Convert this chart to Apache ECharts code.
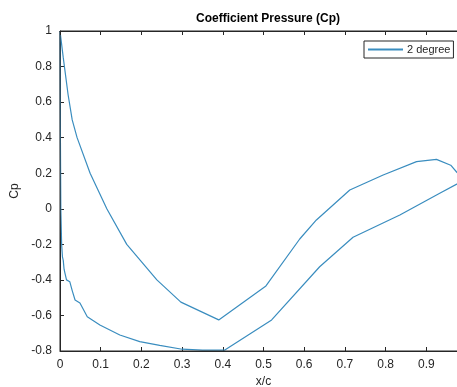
<!DOCTYPE html>
<html>
<head>
<meta charset="utf-8">
<script src="https://cdn.jsdelivr.net/npm/echarts@6/dist/echarts.min.js"></script>
<style>
  html, body { margin: 0; padding: 0; background: #fff; }
  #cp { width: 457px; height: 387px; }
</style>
</head>
<body>
<div id="cp"></div>
<script>
var cp_chart = echarts.init(document.getElementById('cp'));

// one closed loop: trailing edge -> lower surface -> leading edge -> upper surface -> trailing edge
var xc = [1.0, 0.975, 0.96, 0.925, 0.876, 0.794, 0.712, 0.63, 0.589, 0.506, 0.39, 0.297, 0.238, 0.164, 0.115, 0.074, 0.042, 0.03, 0.02, 0.008, 0,
    0.001, 0.002, 0.004, 0.006, 0.008, 0.01, 0.012, 0.016, 0.024, 0.03, 0.037, 0.049, 0.067, 0.098, 0.147, 0.196, 0.245, 0.30, 0.35, 0.405,
    0.52, 0.638, 0.72, 0.835, 0.933, 1.0];
var cp = [0.17, 0.205, 0.245, 0.278, 0.265, 0.19, 0.106, -0.063, -0.17, -0.434, -0.625, -0.525, -0.4, -0.2, 0, 0.2, 0.4, 0.5, 0.64, 0.85, 1,
    0.4, 0, -0.2, -0.27, -0.29, -0.34, -0.36, -0.40, -0.41, -0.46, -0.513, -0.53, -0.607, -0.654, -0.71, -0.747, -0.768, -0.79, -0.795, -0.795,
    -0.625, -0.326, -0.16, -0.035, 0.087, 0.17];
var series_name = '2 degree';
var x_ticks = [0, 1, 0.1];
var y_ticks = [-0.8, 1, 0.2];

var axis_color = '#262626';
var font = 'Liberation Sans, Arial, sans-serif';

function build_points(xs, ys) {
    var pts = [];
    for (var i = 0; i < xs.length; ++i) {
        pts.push([xs[i], ys[i]]);
    }
    return pts;
}

var option = {
    animation: false,
    backgroundColor: '#fff',
    title: {
        text: 'Coefficient Pressure (Cp)',
        left: 263,
        top: 8,
        textAlign: 'center',
        textStyle: { fontFamily: font, fontSize: 12, fontWeight: 'bold', color: '#000' }
    },
    legend: {
        left: 364,
        top: 41,
        padding: [3, 3, 3, 4],
        borderColor: axis_color,
        borderWidth: 1,
        borderRadius: 0,
        itemWidth: 35,
        itemHeight: 2,
        itemGap: 4,
        icon: 'rect',
        textStyle: { fontFamily: font, fontSize: 11, color: axis_color, padding: [0, 0, 0, -1] },
        data: [series_name]
    },
    grid: {
        left: 60, top: 31, bottom: 36, right: -10,
        outerBoundsMode: 'none',
        show: true,
        borderColor: axis_color,
        borderWidth: 1,
        backgroundColor: 'transparent',
        z: 10
    },
    xAxis: [
        {
            type: 'value',
            gridIndex: 0,
            min: x_ticks[0], max: x_ticks[1], interval: x_ticks[2],
            name: 'x/c',
            nameLocation: 'middle',
            nameGap: 25,
            nameTextStyle: { fontFamily: font, fontSize: 12, color: axis_color },
            axisLine: { show: true, onZero: false, lineStyle: { color: axis_color } },
            axisTick: { show: true, inside: true, length: 4, lineStyle: { color: axis_color } },
            axisLabel: { fontFamily: font, fontSize: 12, color: axis_color, margin: 8 },
            splitLine: { show: false }
        },
        {
            type: 'value',
            gridIndex: 0,
            position: 'top',
            offset: 0,
            z: 10,
            min: x_ticks[0], max: x_ticks[1], interval: x_ticks[2],
            axisLine: { show: true, onZero: false, lineStyle: { color: axis_color, width: 1 } },
            axisTick: { show: true, inside: true, length: 4, lineStyle: { color: axis_color } },
            axisLabel: { show: false },
            splitLine: { show: false }
        }
    ],
    yAxis: {
        type: 'value',
        min: y_ticks[0], max: y_ticks[1], interval: y_ticks[2],
        name: 'Cp',
        nameLocation: 'middle',
        nameGap: 32,
        nameTextStyle: { fontFamily: font, fontSize: 12, color: axis_color },
        axisLine: { show: true, onZero: false, lineStyle: { color: axis_color } },
        axisTick: { show: true, inside: true, length: 4, lineStyle: { color: axis_color } },
        axisLabel: {
            fontFamily: font, fontSize: 12, color: axis_color, margin: 8,
            formatter: function (v) { return String(Math.round(v * 10) / 10); }
        },
        splitLine: { show: false }
    },
    series: [
        {
            name: series_name,
            type: 'line',
            showSymbol: false,
            color: '#3a8dbf',
            lineStyle: { width: 1.2, color: '#3a8dbf' },
            data: build_points(xc, cp)
        }
    ]
};
cp_chart.setOption(option);
</script>
</body>
</html>
